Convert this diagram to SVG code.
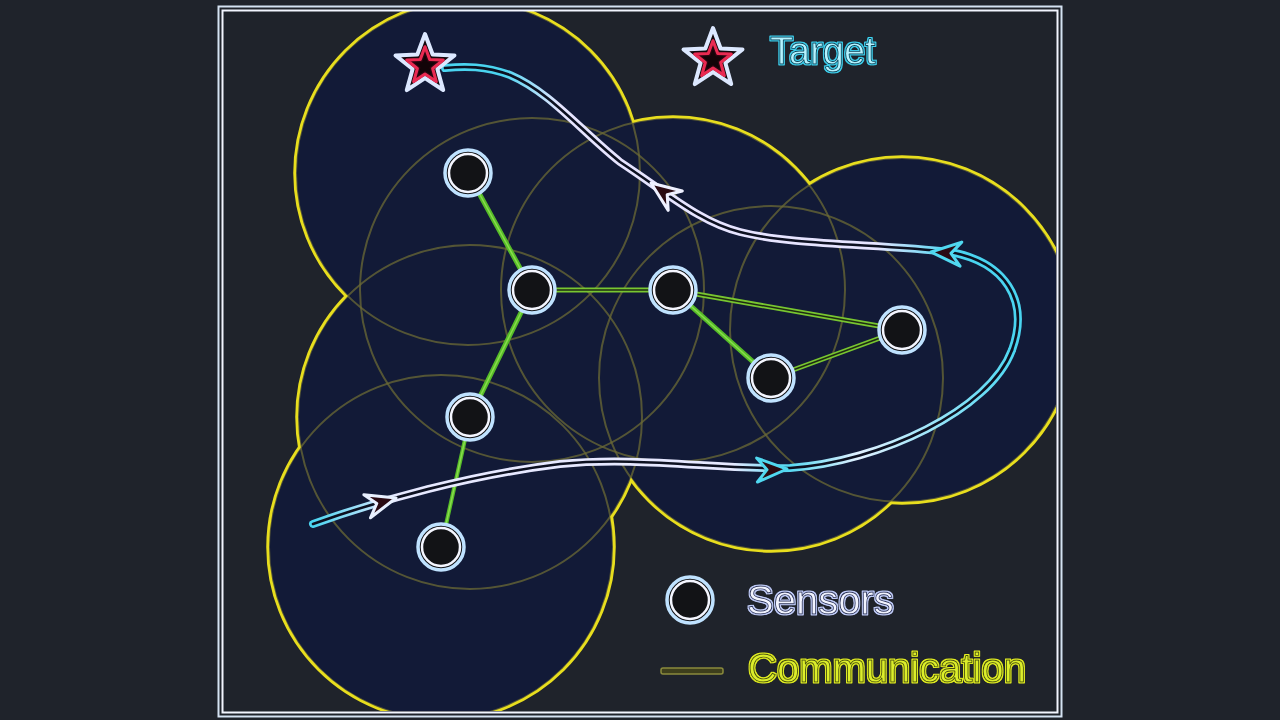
<svg xmlns="http://www.w3.org/2000/svg" width="1280" height="720" viewBox="0 0 1280 720">
<style>
.cov-fill{fill:#121a37;stroke:none}
.cov-faint{fill:none;stroke:#6b6935;stroke-opacity:0.75;stroke-width:2}
.cov-edge{fill:none;stroke:#e8de1e;stroke-width:5.5}
.lk-solid{stroke:#56bc28;stroke-width:5;stroke-linecap:round}
.lk-solid-c{stroke:#88dc4c;stroke-width:1.5}
.lk-dbl{stroke:#78c630;stroke-width:5;stroke-linecap:round}
.lk-dbl-c{stroke:#1e2a12;stroke-width:1.5}
.ring-o{fill:#121316;stroke:#bfe2ff;stroke-width:3.5}
.ring-i{fill:none;stroke:#f4f6ff;stroke-width:2.5}
.route{fill:none;stroke-width:8;stroke-linecap:round;stroke-linejoin:round}
.route-c{fill:none;stroke:#0c1020;stroke-width:2.6;stroke-linecap:round}
.ah{fill:#2a0a12;stroke-width:3;stroke-linejoin:round}
.lbl{font-family:"Liberation Sans",Arial,sans-serif;font-size:40px;stroke-width:0.9;stroke-linejoin:round}
</style>
<defs>
<clipPath id="frameClip"><rect x="223" y="11" width="833" height="700"/></clipPath>
<mask id="outside">
<rect x="0" y="0" width="1280" height="720" fill="#fff"/>
<g fill="#000">
<circle cx="468" cy="173" r="172"/><circle cx="532" cy="290" r="172"/><circle cx="673" cy="290" r="172"/><circle cx="902" cy="330" r="172"/><circle cx="771" cy="378" r="172"/><circle cx="470" cy="417" r="172"/><circle cx="441" cy="547" r="172"/>
</g>
</mask>
<linearGradient id="gBottom" gradientUnits="userSpaceOnUse" x1="313" y1="0" x2="1012" y2="0">
<stop offset="0" stop-color="#4ad4f0"/><stop offset="0.12" stop-color="#e6e8ff"/><stop offset="0.6" stop-color="#e6e8ff"/><stop offset="0.68" stop-color="#55d8f2"/><stop offset="0.78" stop-color="#e0f0ff"/><stop offset="1" stop-color="#50d8f2"/>
</linearGradient>
<linearGradient id="gTop" gradientUnits="userSpaceOnUse" x1="445" y1="0" x2="1020" y2="0">
<stop offset="0" stop-color="#4ad4f0"/><stop offset="0.1" stop-color="#4ad4f0"/><stop offset="0.2" stop-color="#e6e4ff"/><stop offset="0.75" stop-color="#e6e4ff"/><stop offset="0.88" stop-color="#4ad4f0"/><stop offset="1" stop-color="#4ad4f0"/>
</linearGradient>
<path id="arrowHead" d="M0,0 L-30,-12 L-20,0 L-30,12 Z"/>
<g id="star">
<polygon points="0,-31 7.65,-10.53 29.48,-9.58 12.38,4.02 18.22,25.08 0,13.02 -18.22,25.08 -12.38,4.02 -29.48,-9.58 -7.65,-10.53" fill="#14080c" stroke="#dce8ff" stroke-width="4" stroke-linejoin="round"/>
<polygon points="0,-31 7.65,-10.53 29.48,-9.58 12.38,4.02 18.22,25.08 0,13.02 -18.22,25.08 -12.38,4.02 -29.48,-9.58 -7.65,-10.53" transform="translate(0,1) scale(0.62)" fill="#2a0610" stroke="#ea2a52" stroke-width="5" stroke-linejoin="round"/>
<polygon points="0,-31 7.65,-10.53 29.48,-9.58 12.38,4.02 18.22,25.08 0,13.02 -18.22,25.08 -12.38,4.02 -29.48,-9.58 -7.65,-10.53" transform="translate(0,1) scale(0.36)" fill="#120408"/>
</g>
<filter id="haloCyan" x="-10%" y="-20%" width="120%" height="140%">
<feMorphology in="SourceAlpha" operator="dilate" radius="1.3" result="d"/><feFlood flood-color="#3cd2f0"/><feComposite in2="d" operator="in" result="h"/>
<feMerge><feMergeNode in="h"/><feMergeNode in="SourceGraphic"/></feMerge>
</filter>
<filter id="haloWhite" x="-10%" y="-20%" width="120%" height="140%">
<feMorphology in="SourceAlpha" operator="dilate" radius="1.3" result="d"/><feFlood flood-color="#c4d0ff"/><feComposite in2="d" operator="in" result="h"/>
<feMerge><feMergeNode in="h"/><feMergeNode in="SourceGraphic"/></feMerge>
</filter>
<filter id="haloYellow" x="-10%" y="-20%" width="120%" height="140%">
<feMorphology in="SourceAlpha" operator="dilate" radius="1.3" result="d"/><feFlood flood-color="#e4f020"/><feComposite in2="d" operator="in" result="h"/>
<feMerge><feMergeNode in="h"/><feMergeNode in="SourceGraphic"/></feMerge>
</filter>
</defs>

<rect x="0" y="0" width="1280" height="720" fill="#1f232b"/>

<g id="coverage" clip-path="url(#frameClip)">
<g class="cov-fill">
<circle cx="468" cy="173" r="172"/><circle cx="532" cy="290" r="172"/><circle cx="673" cy="290" r="172"/><circle cx="902" cy="330" r="172"/><circle cx="771" cy="378" r="172"/><circle cx="470" cy="417" r="172"/><circle cx="441" cy="547" r="172"/>
</g>
<g class="cov-faint">
<circle cx="468" cy="173" r="172"/><circle cx="532" cy="290" r="172"/><circle cx="673" cy="290" r="172"/><circle cx="902" cy="330" r="172"/><circle cx="771" cy="378" r="172"/><circle cx="470" cy="417" r="172"/><circle cx="441" cy="547" r="172"/>
</g>
<g class="cov-edge" mask="url(#outside)">
<circle cx="468" cy="173" r="172"/><circle cx="532" cy="290" r="172"/><circle cx="673" cy="290" r="172"/><circle cx="902" cy="330" r="172"/><circle cx="771" cy="378" r="172"/><circle cx="470" cy="417" r="172"/><circle cx="441" cy="547" r="172"/>
</g>
</g>

<g id="frame" fill="none">
<rect x="218.5" y="6.5" width="843" height="710" stroke="#d4e2f2" stroke-width="2"/>
<rect x="222.5" y="10.5" width="835" height="702" stroke="#f2f5ff" stroke-width="2"/>
</g>

<g id="connectors">
<g id="links">
<line class="lk-solid" x1="468" y1="173" x2="532" y2="290"/><line class="lk-solid-c" x1="468" y1="173" x2="532" y2="290"/>
<line class="lk-dbl" x1="532" y1="290" x2="673" y2="290"/><line class="lk-dbl-c" x1="532" y1="290" x2="673" y2="290"/>
<line class="lk-solid" x1="532" y1="290" x2="470" y2="417"/><line class="lk-solid-c" x1="532" y1="290" x2="470" y2="417"/>
<line class="lk-solid" x1="470" y1="417" x2="441" y2="547" style="stroke-width:4"/><line class="lk-solid-c" x1="470" y1="417" x2="441" y2="547"/>
<line class="lk-solid" x1="673" y1="290" x2="771" y2="378"/><line class="lk-solid-c" x1="673" y1="290" x2="771" y2="378"/>
<line class="lk-dbl" x1="673" y1="290" x2="902" y2="330"/><line class="lk-dbl-c" x1="673" y1="290" x2="902" y2="330"/>
<line class="lk-dbl" x1="771" y1="378" x2="902" y2="330"/><line class="lk-dbl-c" x1="771" y1="378" x2="902" y2="330"/>
</g>
<g id="target-route">
<path class="route" stroke="url(#gBottom)" d="M313,524 C380,500 470,475 560,464 C640,456 720,470 790,468 C880,462 990,410 1012,350"/>
<path class="route" stroke="url(#gTop)" d="M1012,350 C1030,300 1005,262 950,252 C880,244 790,245 740,232 C700,222 670,195 620,162 C580,130 550,92 510,75 C485,66 465,66 445,68"/>
<path class="route-c" d="M313,524 C380,500 470,475 560,464 C640,456 720,470 790,468 C880,462 990,410 1012,350"/>
<path class="route-c" d="M1012,350 C1030,300 1005,262 950,252 C880,244 790,245 740,232 C700,222 670,195 620,162 C580,130 550,92 510,75 C485,66 465,66 445,68"/>
<use href="#arrowHead" class="ah" stroke="#e8f0ff" transform="translate(396,498) rotate(-16)"/>
<use href="#arrowHead" class="ah" stroke="#50d8f0" transform="translate(787,469) rotate(-2)"/>
<use href="#arrowHead" class="ah" stroke="#50d8f0" transform="translate(931,252) rotate(184)"/>
<use href="#arrowHead" class="ah" stroke="#eef0ff" transform="translate(651,183) rotate(216)"/>
</g>
</g>

<g id="target">
<use href="#star" transform="translate(425,65)"/>
</g>

<g id="sensor-1" transform="translate(468,173)"><circle class="ring-o" r="23"/><circle class="ring-i" r="19"/></g>
<g id="sensor-2" transform="translate(532,290)"><circle class="ring-o" r="23"/><circle class="ring-i" r="19"/></g>
<g id="sensor-3" transform="translate(673,290)"><circle class="ring-o" r="23"/><circle class="ring-i" r="19"/></g>
<g id="sensor-4" transform="translate(902,330)"><circle class="ring-o" r="23"/><circle class="ring-i" r="19"/></g>
<g id="sensor-5" transform="translate(771,378)"><circle class="ring-o" r="23"/><circle class="ring-i" r="19"/></g>
<g id="sensor-6" transform="translate(470,417)"><circle class="ring-o" r="23"/><circle class="ring-i" r="19"/></g>
<g id="sensor-7" transform="translate(441,547)"><circle class="ring-o" r="23"/><circle class="ring-i" r="19"/></g>

<g id="legend">
<g id="legend-target">
<use href="#star" transform="translate(713,59)"/>
<text class="lbl" x="770" y="64" style="font-size:38px" fill="#b4f4ff" stroke="#0e3c52" filter="url(#haloCyan)">Target</text>
</g>
<g id="legend-sensors">
<g transform="translate(690,600)"><circle class="ring-o" r="23"/><circle class="ring-i" r="19"/></g>
<text class="lbl" x="747" y="614" fill="#f2f4ff" stroke="#2c3458" filter="url(#haloWhite)">Sensors</text>
</g>
<g id="legend-communication">
<rect x="661" y="668" width="62" height="6" rx="2" fill="#3e3f1c" stroke="#8a8a3c" stroke-width="1.5"/>
<text class="lbl" x="748" y="682" fill="#dcee2c" stroke="#46500e" filter="url(#haloYellow)">Communication</text>
</g>
</g>
</svg>
